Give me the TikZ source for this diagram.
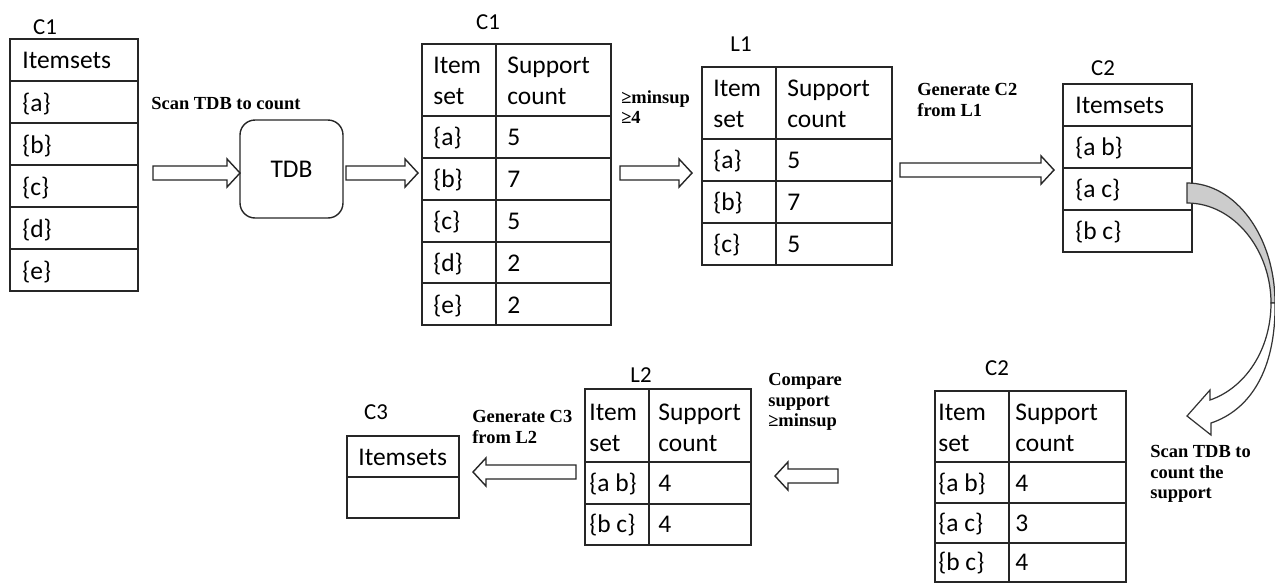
\documentclass[tikz,border=0pt]{standalone}
\usepackage{fontspec}
\setmainfont{Carlito}
\newfontfamily\notefont{Liberation Serif}
\usetikzlibrary{calc,positioning}

\tikzset{
  tabline/.style={draw=black!85,line width=0.8pt},
  frame/.style={tabline,inner sep=0pt,outer sep=0pt},
  cell/.style={anchor=base west,inner sep=0pt,align=left,font=\fontsize{14.5}{17.6}\selectfont},
  title/.style={inner sep=0pt,font=\fontsize{13}{15}\selectfont},
  note/.style={anchor=west,inner sep=0pt,align=left,font=\notefont\bfseries\fontsize{10.5}{11.6}\selectfont},
  blockarr/.style={draw=black!85,line width=0.8pt,fill=white,line join=miter},
}
% hollow block arrow from #1 to #2 (horizontal)
\newcommand{\blockarrow}[2]{%
  \draw[blockarr] let \p1=(#1), \p2=(#2), \p3=($(#2)!7.4pt!(#1)$) in
    (\x1,\y1+4pt) -- (\x3,\y1+4pt) -- (\x3,\y1+8pt) -- (\x2,\y1)
    -- (\x3,\y1-8pt) -- (\x3,\y1-4pt) -- (\x1,\y1-4pt) -- cycle;}

\begin{document}
\begin{tikzpicture}[x=0.02cm,y=-0.02cm]
\useasboundingbox (0,0) rectangle (1275,583);

% C1: candidate 1-itemsets
\node[title] (t-c1a) at (45,27) {C1};
\node[frame,minimum width=2.56cm,minimum height=5.04cm] (c1a) at (74,165) {};
\foreach \y in {81,123,165,207,249} \draw[tabline] (10,\y) -- (138,\y);
\node[cell] (c1a-h) at (22,68) {Itemsets};
\foreach \s [count=\i] in {a,b,c,d,e}
  \node[cell] (c1a-\i) at (22,{69+42*\i}) {\{\s\}};

% the transaction database
\node[frame,rounded corners=0.3cm,minimum width=2.06cm,minimum height=1.96cm,
  font=\fontsize{14.5}{17.6}\selectfont] (tdb) at (291.5,169) {TDB};
\node[note] (n-scan) at (151,103) {Scan TDB to count};

% C1 with support counts
\node[title] (t-c1b) at (488,22) {C1};
\node[frame,minimum width=3.78cm,minimum height=5.62cm] (c1b) at (516.5,184.5) {};
\foreach \y in {116,158,200,242,283} \draw[tabline] (422,\y) -- (611,\y);
\draw[tabline] (496,44) -- (496,325);
\node[cell] (c1b-h1) at (433,104) {Item\\set};
\node[cell] (c1b-h2) at (507,104) {Support\\count};
\foreach \s/\n [count=\i] in {a/5,b/7,c/5,d/2,e/2}{
  \node[cell] (c1b-s\i) at (433,{103.5+42*\i}) {\{\s\}};
  \node[cell] (c1b-n\i) at (507,{103.5+42*\i}) {\n};
}
\node[note] (n-min) at (621,107) {≥minsup\\≥4};

% L1: frequent 1-itemsets
\node[title] (t-l1) at (741,44) {L1};
\node[frame,minimum width=3.8cm,minimum height=3.96cm] (l1) at (797,166) {};
\foreach \y in {139,181,223} \draw[tabline] (702,\y) -- (892,\y);
\draw[tabline] (776,67) -- (776,265);
\node[cell] (l1-h1) at (713,127) {Item\\set};
\node[cell] (l1-h2) at (787,127) {Support\\count};
\foreach \s/\n [count=\i] in {a/5,b/7,c/5}{
  \node[cell] (l1-s\i) at (713,{126.5+42*\i}) {\{\s\}};
  \node[cell] (l1-n\i) at (787,{126.5+42*\i}) {\n};
}
\node[note] (n-gen2) at (917,100) {Generate C2\\from L1};

% C2: candidate 2-itemsets
\node[title] (t-c2a) at (1103,68) {C2};
\node[frame,minimum width=2.58cm,minimum height=3.36cm] (c2a) at (1127.5,168) {};
\foreach \y in {126,168,210} \draw[tabline] (1063,\y) -- (1192,\y);
\node[cell] (c2a-h) at (1075,113) {Itemsets};
\foreach \s [count=\i] in {a b,a c,b c}
  \node[cell] (c2a-\i) at (1075,{113.5+42*\i}) {\{\s\}};

% C2 with support counts
\node[title] (t-c2b) at (997,368) {C2};
\node[frame,minimum width=3.82cm,minimum height=3.82cm] (c2b) at (1030.5,486.5) {};
\foreach \y in {462,503,543} \draw[tabline] (935,\y) -- (1126,\y);
\draw[tabline] (1009,391) -- (1009,582);
\node[cell] (c2b-h1) at (938,451) {Item\\set};
\node[cell] (c2b-h2) at (1015,451) {Support\\count};
\foreach \s/\n/\y [count=\i] in {a b/4/491,a c/3/531,b c/4/570}{
  \node[cell] (c2b-s\i) at (938,\y) {\{\s\}};
  \node[cell] (c2b-n\i) at (1015,\y) {\n};
}
\node[note] (n-scan2) at (1150,474) {Scan TDB to\\count the\\support};
\node[note] (n-cmp) at (768,402) {Compare\\support\\≥minsup};

% L2: frequent 2-itemsets
\node[title] (t-l2) at (641,375) {L2};
\node[frame,minimum width=3.32cm,minimum height=3.12cm] (l2) at (668,467) {};
\foreach \y in {462,504} \draw[tabline] (585,\y) -- (751,\y);
\draw[tabline] (649,389) -- (649,545);
\node[cell] (l2-h1) at (589,451) {Item\\set};
\node[cell] (l2-h2) at (658,451) {Support\\count};
\foreach \s/\n/\y [count=\i] in {a b/4/491,b c/4/532}{
  \node[cell] (l2-s\i) at (589,\y) {\{\s\}};
  \node[cell] (l2-n\i) at (658,\y) {\n};
}
\node[note] (n-gen3) at (472,427) {Generate C3\\from L2};

% C3: empty candidate set
\node[title] (t-c3) at (376,412) {C3};
\node[frame,minimum width=2.24cm,minimum height=1.64cm] (c3) at (403,477) {};
\draw[tabline] (347,477) -- (459,477);
\node[cell] (c3-h) at (358,465) {Itemsets};

% block arrows between the steps
\coordinate (a1s) at (153,173);
\coordinate (a1e) at (tdb.west |- a1s);
\coordinate (a2s) at ($(tdb.east |- a1s)+(3,0)$);
\coordinate (a2e) at ($(c1b.west |- a1s)+(-4,0)$);
\coordinate (a3s) at ($(c1b.east |- a1s)+(9,0)$);
\coordinate (a3e) at ($(l1.west |- a1s)+(-10,0)$);
\coordinate (a4s) at ($(l1.east)+(8,4)$);
\coordinate (a4e) at ($(c2a.west |- a4s)+(-9,0)$);
\coordinate (a5s) at ($(c2b.west)+(-97,-10.5)$);
\coordinate (a5e) at ($(l2.east |- a5s)+(24,0)$);
\coordinate (a6s) at ($(l2.west)+(-9,5)$);
\coordinate (a6e) at ($(c3.east |- a6s)+(14,0)$);
\blockarrow{a1s}{a1e}
\blockarrow{a2s}{a2e}
\blockarrow{a3s}{a3e}
\blockarrow{a4s}{a4e}
\blockarrow{a5s}{a5e}
\blockarrow{a6s}{a6e}

% curved arrow down to the counted C2
\filldraw[fill=black!20,draw=black!80,line width=0.7pt]
  (1187,183) .. controls (1236,183) and (1275,237) .. (1275,303)
  -- (1271,303) .. controls (1271,250) and (1234,203) .. (1187,203) -- cycle;
\filldraw[fill=white,draw=black!80,line width=0.7pt,line join=miter]
  (1271,303) .. controls (1271,350) and (1245,388) .. (1210,400)
  -- (1210,390) -- (1187,416) -- (1211,435) -- (1211,423)
  .. controls (1250,410) and (1276,370) .. (1275,303) -- cycle;
\end{tikzpicture}
\end{document}
